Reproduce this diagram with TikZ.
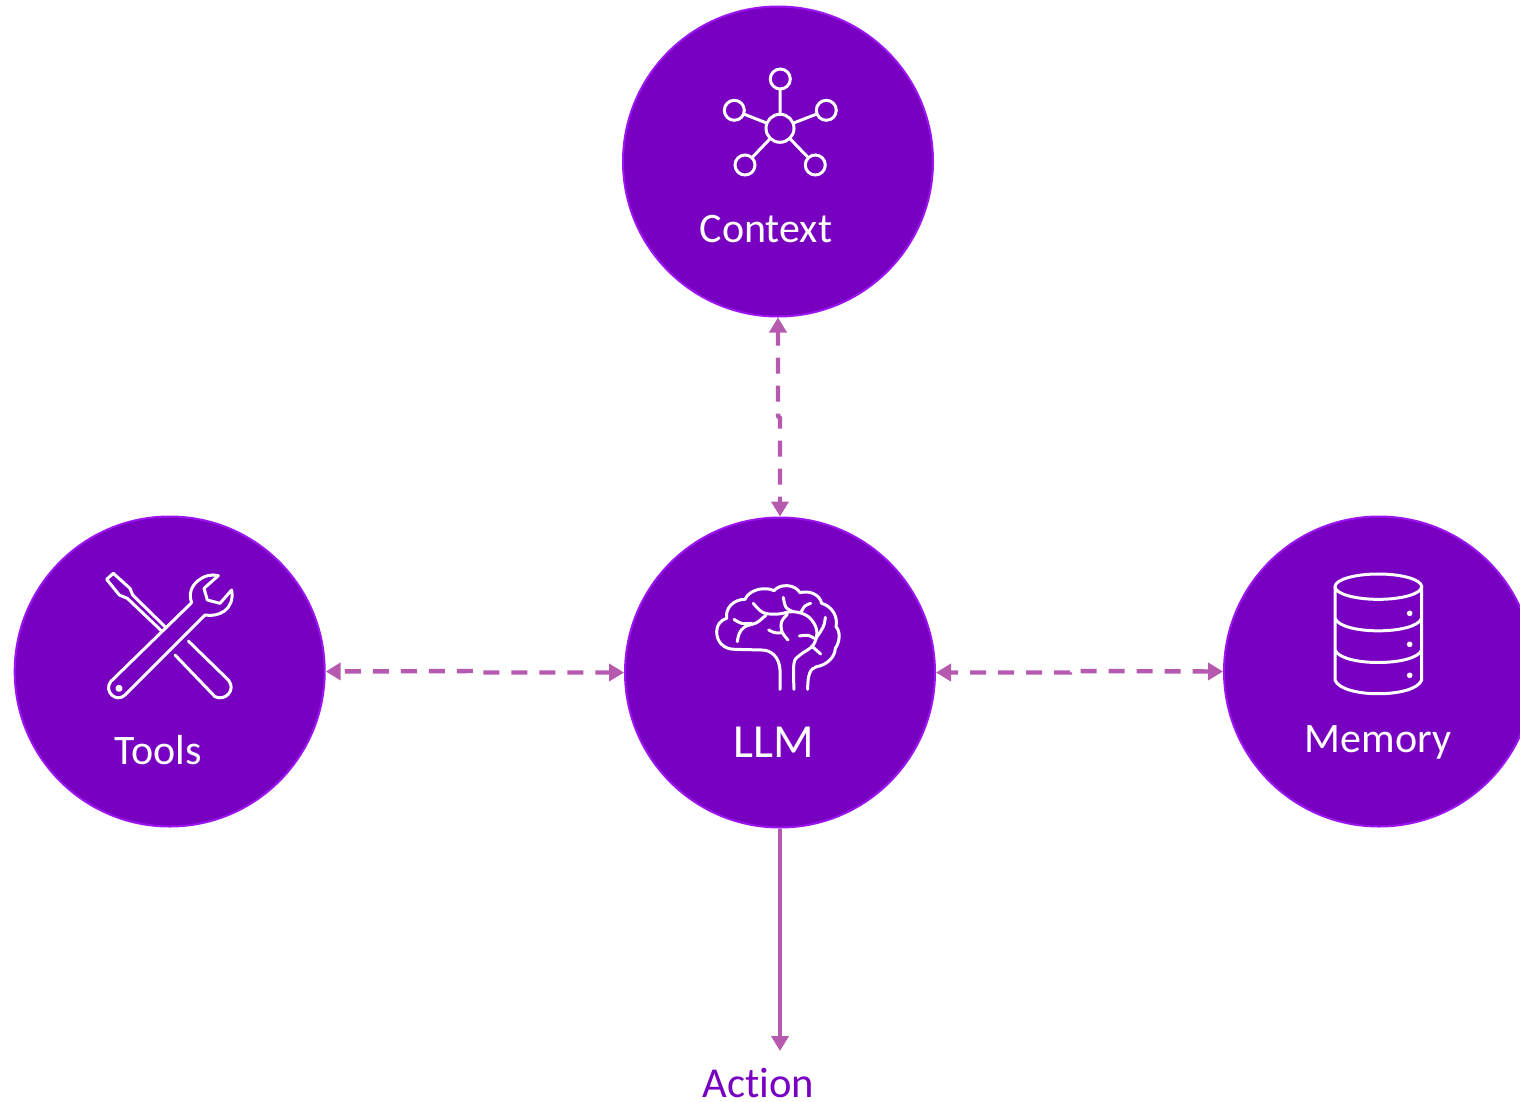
\documentclass[tikz,border=0pt]{standalone}
\usepackage{fontspec}
\setmainfont[Ligatures=NoCommon]{Carlito}
\usetikzlibrary{arrows.meta}
\definecolor{hubfill}{HTML}{7800C0}
\definecolor{hubedge}{HTML}{9C14F0}
\definecolor{linkc}{HTML}{B55AAF}
\tikzset{
  hub/.style={circle,draw=hubedge,fill=hubfill,line width=2pt,minimum size=310pt,inner sep=0pt,outer sep=1pt},
  hubtext/.style={text=white,inner sep=0pt,font=\fontsize{42}{42}\selectfont},
  link/.style={draw=linkc,line width=4.4pt,{Triangle[length=15pt,width=17pt]}-{Triangle[length=15pt,width=17pt]}},
  dashlink/.style={link,dash pattern=on 16pt off 12pt},
  icon/.style={draw=white,line width=3pt,line cap=round,line join=round},
  dot/.style={circle,draw=white,line width=3pt,fill=none,inner sep=0pt,outer sep=0pt,minimum size=20pt},
}
\begin{document}
\begin{tikzpicture}[x=1pt,y=-1pt]
\useasboundingbox (0,0) rectangle (1520,1101);
\clip (0,0) rectangle (1520,1101);
\node[hub] (context) at (778,161.5) {};
\node[hub] (llm) at (780,672.5) {};
\node[hub] (tools) at (169.7,671.5) {};
\node[hub] (memory) at (1379,671.5) {};
\node[hubtext,anchor=base] (contextlabel) at (766,242) {Context};
\node[hubtext,anchor=base,font=\fontsize{47.5}{47.5}\selectfont] (llmlabel) at (773.5,757) {LLM};
\node[hubtext,anchor=base] (toolslabel) at (158.5,764) {Tools};
\node[hubtext,anchor=base] (memorylabel) at (1378,752) {Memory};
\node[anchor=base,inner sep=0pt,text=hubfill,font=\fontsize{42.6}{42.6}\selectfont] (actionlabel) at (758.5,1097) {Action};
% connectors
\coordinate (jogtop) at (778,416);
\coordinate (jogbot) at (780,418);
\coordinate (toolsjoga) at (478,671);
\coordinate (toolsjogb) at (478,672.5);
\coordinate (memjoga) at (1070,672.5);
\coordinate (memjogb) at (1070,671);
\coordinate (tooltip) at (780,1051);
\draw[dashlink,dash phase=2pt] (context.south) -- (jogtop) -- (jogbot) -- (llm.north);
\draw[dashlink,dash phase=23pt] (tools.east) -- (toolsjoga) -- (toolsjogb) -- (llm.west);
\draw[dashlink,dash phase=8pt] (llm.east) -- (memjoga) -- (memjogb) -- (memory.west);
\draw[draw=linkc,line width=4.4pt,-{Triangle[length=15pt,width=17pt]}] (llm.south) -- (tooltip);
% context icon
\node[dot,minimum size=28pt] (n0) at (780,128.3) {};
\node[dot] (n1) at (780.3,79) {};
\node[dot] (n2) at (734.3,110.3) {};
\node[dot] (n3) at (826.3,110.3) {};
\node[dot] (n4) at (745,165) {};
\node[dot] (n5) at (815.3,165) {};
\foreach \m in {n1,n2,n3,n4,n5} \draw[draw=white,line width=3pt] (n0) -- (\m);
% tools icon
\begin{scope}[shift={(90,560)},x=0.3333pt,y=-0.3333pt,icon]
 \draw (215,213) -- (112,115) -- (88,105) -- (50,58) -- (70,40) -- (120,85) -- (128,105) -- (225,200);
 \draw (295,243) -- (415,360) .. controls (440,390) and (405,425) .. (375,410) -- (255,285);
 \draw (305,128) -- (62,365) .. controls (40,395) and (80,430) .. (105,405) -- (345,165)
   .. controls (385,172) and (435,150) .. (425,90) -- (390,130) -- (352,120) -- (342,85) -- (385,47)
   .. controls (345,35) and (285,75) .. (305,128);
 \draw (87,385) circle[radius=6];
\end{scope}
% brain icon
\begin{scope}[shift={(700,570)},x=0.3333pt,y=-0.3333pt,icon]
 \draw (240,358) -- (240,300) .. controls (238,262) and (215,240) .. (185,240) -- (105,238)
   .. controls (70,238) and (50,215) .. (50,185) .. controls (50,165) and (62,150) .. (80,145)
   .. controls (75,115) and (100,88) .. (135,88) .. controls (150,55) and (200,50) .. (222,62)
   .. controls (240,40) and (285,42) .. (300,68) .. controls (330,60) and (360,75) .. (365,100)
   .. controls (395,108) and (415,140) .. (408,170) .. controls (422,185) and (420,215) .. (406,235)
   .. controls (405,262) and (380,285) .. (350,290) .. controls (330,295) and (323,315) .. (323,358);
 \draw plot[smooth,tension=0.6] coordinates {(282,358) (282,280) (300,255) (340,225) (350,180) (325,140) (280,125) (235,132) (190,128) (160,100)};
 \draw plot[smooth,tension=0.6] coordinates {(280,125) (258,112) (250,82)};
 \draw plot[smooth,tension=0.6] coordinates {(304,125) (315,108) (332,100)};
 \draw plot[smooth,tension=0.6] coordinates {(198,135) (170,158) (135,170) (118,190) (112,215)};
 \draw plot[smooth,tension=0.6] coordinates {(102,148) (125,160) (155,160)};
 \draw plot[smooth,tension=0.6] coordinates {(262,133) (245,155) (246,185) (264,210)};
 \draw plot[smooth,tension=0.6] coordinates {(206,180) (225,188) (247,188)};
 \draw plot[smooth,tension=0.6] coordinates {(298,198) (325,196) (342,205)};
 \draw plot[smooth,tension=0.6] coordinates {(376,142) (370,170) (348,205)};
 \draw (335,228) -- (362,252);
\end{scope}
% memory icon
\begin{scope}[shift={(1320,560)},x=0.3333pt,y=-0.3333pt,icon]
 \draw (175,80) ellipse[x radius=130,y radius=38];
 \draw (45,80) -- (45,360) .. controls (65,415) and (285,415) .. (305,360) -- (305,80);
 \draw (45,175) .. controls (65,225) and (285,225) .. (305,175);
 \draw (45,270) .. controls (65,320) and (285,320) .. (305,270);
 \fill[white,draw=none] (269,160) circle[radius=8.5] (269,253) circle[radius=8.5] (269,346) circle[radius=8.5];
\end{scope}
\end{tikzpicture}
\end{document}
